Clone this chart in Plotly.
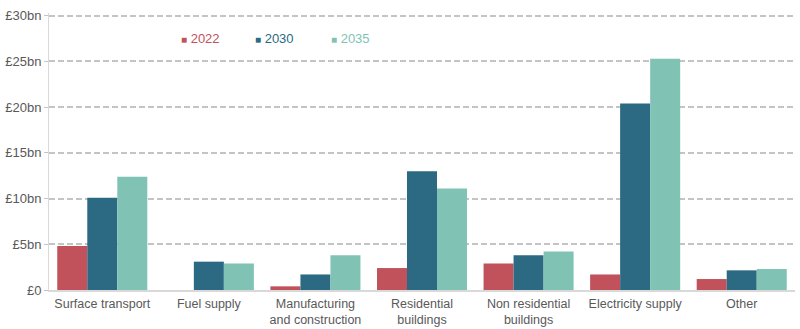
import plotly.graph_objects as go

categories = [
    "Surface transport",
    "Fuel supply",
    "Manufacturing<br>and construction",
    "Residential<br>buildings",
    "Non residential<br>buildings",
    "Electricity supply",
    "Other",
]
years = ["2022", "2030", "2035"]
spend_2022 = [4.8, 0.0, 0.4, 2.4, 2.9, 1.7, 1.2]
spend_2030 = [10.1, 3.1, 1.7, 13.0, 3.8, 20.4, 2.15]
spend_2035 = [12.4, 2.9, 3.8, 11.1, 4.2, 25.3, 2.3]
tick_vals = [0, 5, 10, 15, 20, 25, 30]
tick_text = ["£0", "£5bn", "£10bn", "£15bn", "£20bn", "£25bn", "£30bn"]

colors = ["#C1525B", "#2B6A82", "#80C3B5"]
series = [spend_2022, spend_2030, spend_2035]
legend_x = [0.1742, 0.2734, 0.3753]

fig = go.Figure()
for year, vals, col in zip(years, series, colors):
    fig.add_trace(go.Bar(
        x=categories,
        y=vals,
        name=year,
        marker=dict(color=col, line=dict(width=0)),
        showlegend=False,
    ))

# Inline key: small coloured square followed by the year in the same colour
for year, col, lx in zip(years, colors, legend_x):
    fig.add_annotation(
        xref="paper", yref="paper",
        x=lx, y=0.908,
        xanchor="left", yanchor="middle",
        showarrow=False,
        text=f"<span style='font-size:10px'>■</span> {year}",
        font=dict(size=13, color=col, family="Liberation Sans, Arial, sans-serif"),
    )

fig.update_layout(
    width=800,
    height=329,
    margin=dict(l=49, r=5, t=13, b=39),
    paper_bgcolor="white",
    plot_bgcolor="white",
    barmode="group",
    bargap=0.155,
    bargroupgap=0,
    font=dict(family="Liberation Sans, Arial, sans-serif", size=13, color="#595959"),
    xaxis=dict(
        showgrid=False,
        showline=True,
        linecolor="#D9D9D9",
        linewidth=2,
        ticks="",
        ticklabelstandoff=1,
        automargin=False,
        tickfont=dict(size=12.5, color="#595959"),
    ),
    yaxis=dict(
        range=[0, 30.3],
        tickvals=tick_vals,
        ticktext=tick_text,
        showgrid=True,
        gridcolor="#C4C4C4",
        griddash="6px,3px",
        gridwidth=1.5,
        showline=True,
        linecolor="#D9D9D9",
        linewidth=1,
        ticks="outside",
        ticklen=4,
        tickcolor="#C4C4C4",
        zeroline=False,
        automargin=False,
        tickfont=dict(size=13, color="#595959"),
    ),
)

fig.write_html("out.html")
